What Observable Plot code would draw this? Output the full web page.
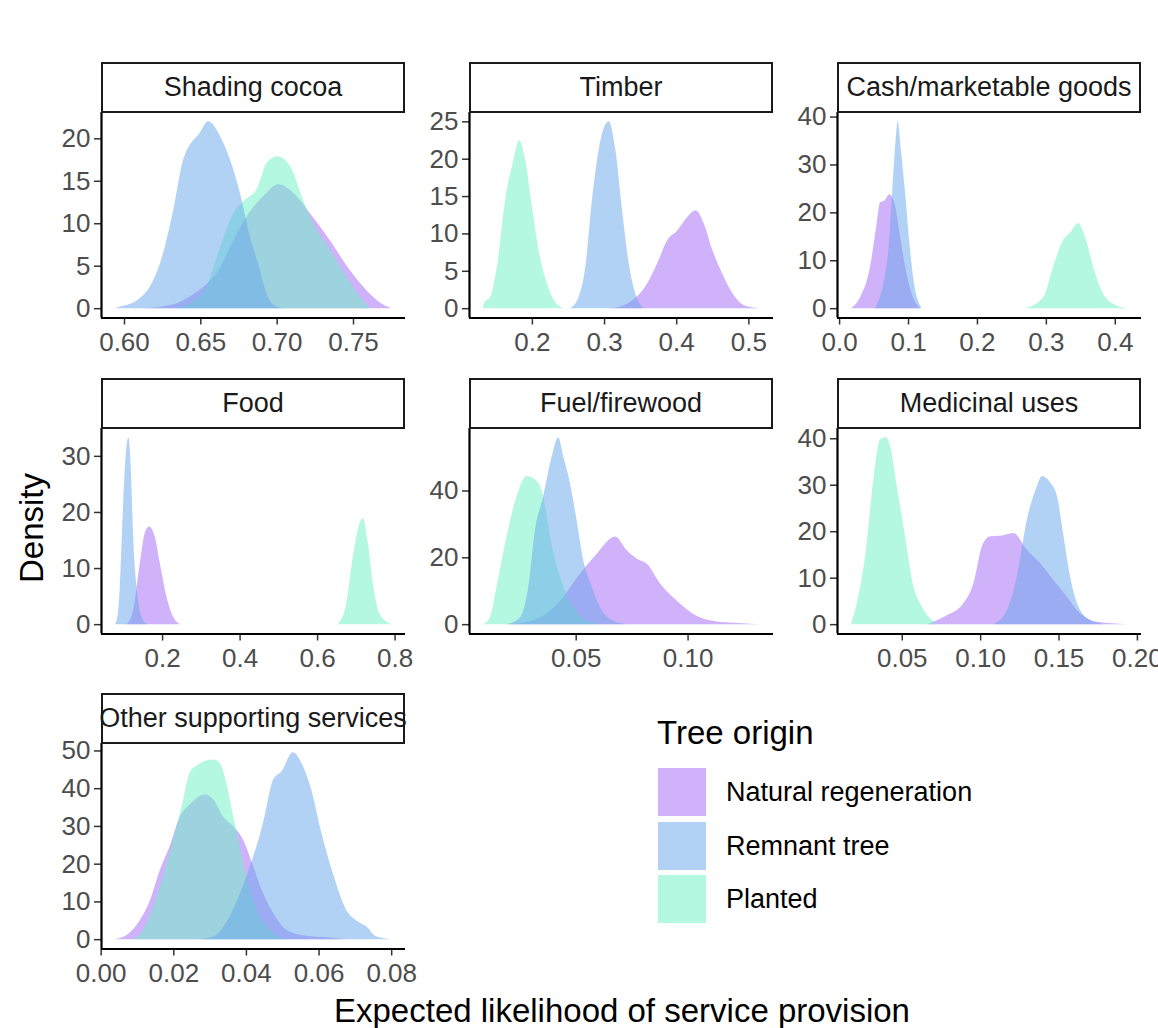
<!DOCTYPE html>
<html><head><meta charset="utf-8">
<script src="https://cdn.jsdelivr.net/npm/d3@7"></script>
<script src="https://cdn.jsdelivr.net/npm/@observablehq/plot@0.6"></script>
<style>
body{margin:0;background:#fff;overflow:hidden}
#chart{position:relative;width:1158px;height:1028px;font-family:"Liberation Sans",Arial,sans-serif;overflow:hidden;background:#fff}
.strip{position:absolute;box-sizing:border-box;border:2px solid #1a1a1a;display:flex;justify-content:center;align-items:center;overflow:visible;white-space:nowrap;font-size:27px;color:#1a1a1a;background:#fff}
.panel{position:absolute}
.panel svg{max-width:none !important}
.abs{position:absolute;white-space:nowrap;color:#000}
</style></head>
<body><div id="chart"></div>
<script>
// ---------- data (x = expected likelihood, y = density) ----------
const origins = ["Natural regeneration", "Remnant tree", "Planted"];
const originColors = ["#A165F5", "#65A5EB", "#69F1C3"];
const drawOrder = ["Natural regeneration", "Planted", "Remnant tree"];

const services = ["Shading cocoa", "Timber", "Cash/marketable goods", "Food", "Fuel/firewood", "Medicinal uses", "Other supporting services"];

const shadingNatural = [[0.612,0],[0.625,0.2],[0.635,0.6],[0.645,1.6],[0.655,3.0],[0.662,4.5],[0.6694,7.2],[0.6803,10.8],[0.6912,13.2],[0.701,14.6],[0.7108,13.6],[0.7217,11.2],[0.7348,8.0],[0.7479,4.5],[0.761,1.7],[0.768,0.6],[0.775,0]];
const shadingRemnant = [[0.594,0],[0.600,0.3],[0.6083,0.9],[0.618,2.9],[0.6236,5.3],[0.6323,11.6],[0.6388,17.5],[0.6497,20.7],[0.6552,22.0],[0.6628,20.3],[0.6694,17.5],[0.6759,13.6],[0.6825,8.4],[0.689,4.5],[0.6934,1.7],[0.6999,0.2],[0.705,0]];
const shadingPlanted = [[0.634,0],[0.645,0.8],[0.655,3.0],[0.6607,6.0],[0.6716,11.2],[0.6803,12.9],[0.6868,14.0],[0.6934,17.1],[0.6999,17.9],[0.7065,17.3],[0.7108,16.0],[0.7163,13.2],[0.7239,10.0],[0.7348,6.9],[0.7457,3.7],[0.7545,1.3],[0.761,0]];

const timberNatural = [[0.31,0],[0.3319,0.6],[0.3597,3.3],[0.3736,6.0],[0.3875,9.1],[0.4014,10.4],[0.4153,12.2],[0.4268,13.1],[0.4384,11.3],[0.45,7.8],[0.4615,5.1],[0.4754,2.4],[0.4939,0.4],[0.515,0]];
const timberRemnant = [[0.2532,0],[0.2647,1.5],[0.274,5.5],[0.2833,14.5],[0.2925,21.2],[0.3064,25.0],[0.3157,21.2],[0.325,13.1],[0.3342,6.0],[0.3435,1.9],[0.355,0]];
const timberPlanted = [[0.132,0],[0.134,0.8],[0.1421,1.5],[0.1514,5.5],[0.163,14.5],[0.1745,19.9],[0.1824,22.5],[0.1907,19.9],[0.2,13.6],[0.2092,7.8],[0.2208,3.3],[0.2324,0.8],[0.2439,0]];

const cashNatural = [[0.017,0],[0.0304,2.3],[0.0449,8.7],[0.0546,17.8],[0.0594,22.1],[0.0652,22.4],[0.0729,23.8],[0.0812,21.4],[0.0884,15.0],[0.0957,8.7],[0.1054,3.0],[0.1174,0]];
const cashRemnant = [[0.0522,0],[0.0642,5.2],[0.0715,12.2],[0.0778,26.3],[0.0826,36.2],[0.085,39.0],[0.0894,33.3],[0.0957,24.2],[0.1029,12.2],[0.1087,5.2],[0.1198,0]];
const cashPlanted = [[0.2696,0],[0.2961,2.3],[0.3106,8.7],[0.3251,14.3],[0.3348,15.7],[0.3468,17.8],[0.3565,15.0],[0.3686,8.7],[0.3807,3.7],[0.3928,1.3],[0.418,0]];

const foodNatural = [[0.1082,0],[0.1253,2.5],[0.1425,10.9],[0.1554,16.3],[0.1665,17.4],[0.1812,15.6],[0.1941,10.9],[0.2113,4.9],[0.2284,1.3],[0.2456,0]];
const foodRemnant = [[0.078,0],[0.085,1.5],[0.091,6.7],[0.0995,21.6],[0.1082,31.8],[0.1134,33.3],[0.1193,27.6],[0.1253,15.6],[0.134,6.7],[0.1469,1.3],[0.1598,0]];
const foodPlanted = [[0.6536,0],[0.6753,3.7],[0.6923,12.1],[0.7095,18.0],[0.7181,18.9],[0.7309,14.5],[0.7438,7.3],[0.7611,1.9],[0.7912,0]];

const fuelNatural = [[0.0206,0],[0.034,2.0],[0.043,7.0],[0.0519,15.1],[0.0594,21.1],[0.0676,26.2],[0.0728,22.1],[0.0773,19.6],[0.0818,18.1],[0.0878,12.1],[0.0952,7.0],[0.1027,3.0],[0.1131,0.8],[0.1206,0.4],[0.132,0]];
const fuelRemnant = [[0.0191,0],[0.0251,2.0],[0.0288,11.1],[0.0318,28.2],[0.0355,38.3],[0.0393,50.3],[0.0422,55.9],[0.0444,50.3],[0.0474,42.3],[0.0504,31.2],[0.0534,19.1],[0.0572,11.1],[0.0609,5.0],[0.0668,1.0],[0.0728,0]];
const fuelPlanted = [[0.0085,0],[0.0116,2.0],[0.0146,11.1],[0.0191,26.2],[0.0236,38.3],[0.0281,44.3],[0.0325,42.8],[0.0355,38.3],[0.0385,26.2],[0.043,14.1],[0.0489,5.0],[0.0549,1.0],[0.0609,0]];

const medicinalNatural = [[0.066,0],[0.0787,1.9],[0.0893,4.5],[0.0957,8.8],[0.1011,16.7],[0.1064,18.9],[0.1127,19.0],[0.1212,19.6],[0.1298,16.0],[0.1383,13.1],[0.1468,9.5],[0.1553,5.9],[0.1638,2.3],[0.1745,0.5],[0.1938,0]];
const medicinalRemnant = [[0.1085,0],[0.117,3.0],[0.1234,10.2],[0.1298,22.5],[0.1362,29.7],[0.1394,31.9],[0.1447,30.5],[0.149,27.6],[0.1532,18.9],[0.1574,10.2],[0.1628,3.7],[0.1702,0.9],[0.1787,0]];
const medicinalPlanted = [[0.0175,0],[0.0213,4.5],[0.0266,14.6],[0.0319,31.2],[0.0361,39.8],[0.04,40.2],[0.0425,38.4],[0.0468,29.7],[0.0521,18.9],[0.0574,8.1],[0.0617,4.5],[0.067,1.6],[0.0723,0]];

const otherNatural = [[0.0039,0],[0.0071,1.1],[0.0108,5.1],[0.0136,10.4],[0.0163,18.4],[0.019,24.6],[0.0218,32.5],[0.0245,35.7],[0.0287,38.3],[0.031,37.0],[0.0337,32.5],[0.0365,29.9],[0.0392,26.4],[0.042,19.3],[0.0447,12.2],[0.0475,6.9],[0.0511,2.5],[0.0566,0.9],[0.0621,0.5],[0.0676,0]];
const otherRemnant = [[0.0273,0],[0.031,0.7],[0.0355,6.0],[0.0401,16.6],[0.0447,30.8],[0.0475,42.3],[0.0498,44.5],[0.0529,49.5],[0.0553,46.7],[0.058,39.6],[0.0608,28.1],[0.0639,17.5],[0.0676,7.8],[0.0708,4.7],[0.0731,3.4],[0.0759,0.7],[0.08,0]];
const otherPlanted = [[0.009,0],[0.0117,2.5],[0.0154,11.3],[0.019,23],[0.0223,35.2],[0.0245,44.1],[0.0264,46.0],[0.031,47.6],[0.0328,46.7],[0.0346,41.4],[0.0365,32.5],[0.0383,24.6],[0.0401,16.6],[0.0429,7.8],[0.0465,2.5],[0.0511,0]];

// tick values
const xTicks = [[0.60,0.65,0.70,0.75],[0.2,0.3,0.4,0.5],[0.0,0.1,0.2,0.3,0.4],[0.2,0.4,0.6,0.8],[0.05,0.10],[0.05,0.10,0.15,0.20],[0.00,0.02,0.04,0.06,0.08]];
const xTickFormats = [".2f",".1f",".1f",".1f",".2f",".2f",".2f"];
const yTicks = [[0,5,10,15,20],[0,5,10,15,20,25],[0,10,20,30,40],[0,10,20,30],[0,20,40],[0,10,20,30,40],[0,10,20,30,40,50]];

const seriesByService = [
  [shadingNatural, shadingRemnant, shadingPlanted],
  [timberNatural, timberRemnant, timberPlanted],
  [cashNatural, cashRemnant, cashPlanted],
  [foodNatural, foodRemnant, foodPlanted],
  [fuelNatural, fuelRemnant, fuelPlanted],
  [medicinalNatural, medicinalRemnant, medicinalPlanted],
  [otherNatural, otherRemnant, otherPlanted]
];

// ---------- layout ----------
const chart = document.getElementById("chart");
const colLeft = [101, 469, 837];
const rowTop = [112, 427.5, 743];
const panelW = 304, panelH = 205.5, stripH = 50;
const ML = 70, MR = 40, MT = 4, MB = 54;
const colorOf = Object.fromEntries(origins.map((o, i) => [o, originColors[i]]));

function expand(lo, hi) { const d = (hi - lo) * 0.05; return [lo - d, hi + d]; }

services.forEach((name, i) => {
  const col = i % 3, row = Math.floor(i / 3);
  const rows = [];
  seriesByService[i].forEach((arr, k) => arr.forEach(([x, y]) => rows.push({service: name, origin: origins[k], x, y})));
  const xd = expand(d3.min(rows, d => d.x), d3.max(rows, d => d.x));
  const yd = expand(0, d3.max(rows, d => d.y));

  const strip = document.createElement("div");
  strip.className = "strip";
  strip.style.left = colLeft[col] + "px";
  strip.style.top = (rowTop[row] - stripH) + "px";
  strip.style.width = panelW + "px";
  strip.style.height = (stripH + 1) + "px";
  strip.textContent = name;

  const W = ML + panelW + MR, H = MT + panelH + MB;
  const plot = Plot.plot({
    width: W,
    height: H,
    marginLeft: ML, marginRight: MR, marginTop: MT, marginBottom: MB,
    style: {background: "transparent", overflow: "visible", maxWidth: "none", fontFamily: "'Liberation Sans', Arial, sans-serif", fontSize: "26px"},
    x: {domain: xd},
    y: {domain: yd},
    marks: [
      ...drawOrder.map(o => Plot.areaY(rows.filter(d => d.origin === o), {
        x: "x", y: "y", fill: colorOf[o], fillOpacity: 0.5, curve: "monotone-x"
      })),
      Plot.axisX({ticks: xTicks[i], tickFormat: d3.format(xTickFormats[i]), tickSize: 7, tickPadding: 8,
        stroke: "#333333", fill: "#4D4D4D", strokeWidth: 1.5, label: null, fontSize: 26}),
      Plot.axisY({ticks: yTicks[i], tickSize: 7, tickPadding: 4,
        stroke: "#333333", fill: "#4D4D4D", strokeWidth: 1.5, label: null, fontSize: 26}),
      Plot.ruleX([xd[0]], {stroke: "#000", strokeWidth: 2.2}),
      Plot.ruleY([yd[0]], {stroke: "#000", strokeWidth: 2.2})
    ]
  });
  const holder = document.createElement("div");
  holder.className = "panel";
  holder.style.left = (colLeft[col] - ML) + "px";
  holder.style.top = (rowTop[row] - MT) + "px";
  holder.style.width = W + "px";
  holder.style.height = H + "px";
  holder.appendChild(plot);
  chart.appendChild(holder);
  chart.appendChild(strip);
});

// axis titles
const yTitle = document.createElement("div");
yTitle.className = "abs";
yTitle.textContent = "Density";
Object.assign(yTitle.style, {left: "31px", top: "528px", fontSize: "33px", lineHeight: "33px", transform: "translate(-50%,-50%) rotate(-90deg)"});
chart.appendChild(yTitle);

const xTitle = document.createElement("div");
xTitle.className = "abs";
xTitle.textContent = "Expected likelihood of service provision";
Object.assign(xTitle.style, {left: "222px", width: "800px", textAlign: "center", top: "994px", fontSize: "33px", lineHeight: "33px"});
chart.appendChild(xTitle);

// legend
const legTitle = document.createElement("div");
legTitle.className = "abs";
legTitle.textContent = "Tree origin";
Object.assign(legTitle.style, {left: "657px", top: "716px", fontSize: "33px", lineHeight: "33px"});
chart.appendChild(legTitle);
origins.forEach((o, k) => {
  const top = 768 + k * 53.5;
  const sw = document.createElement("div");
  Object.assign(sw.style, {position: "absolute", left: "658px", top: top + "px", width: "48px", height: "48px", background: colorOf[o], opacity: 0.5});
  chart.appendChild(sw);
  const lab = document.createElement("div");
  lab.className = "abs";
  lab.textContent = o;
  Object.assign(lab.style, {left: "726px", top: (top + 10) + "px", fontSize: "27px", lineHeight: "28px", color: "#000"});
  chart.appendChild(lab);
});
</script></body></html>
